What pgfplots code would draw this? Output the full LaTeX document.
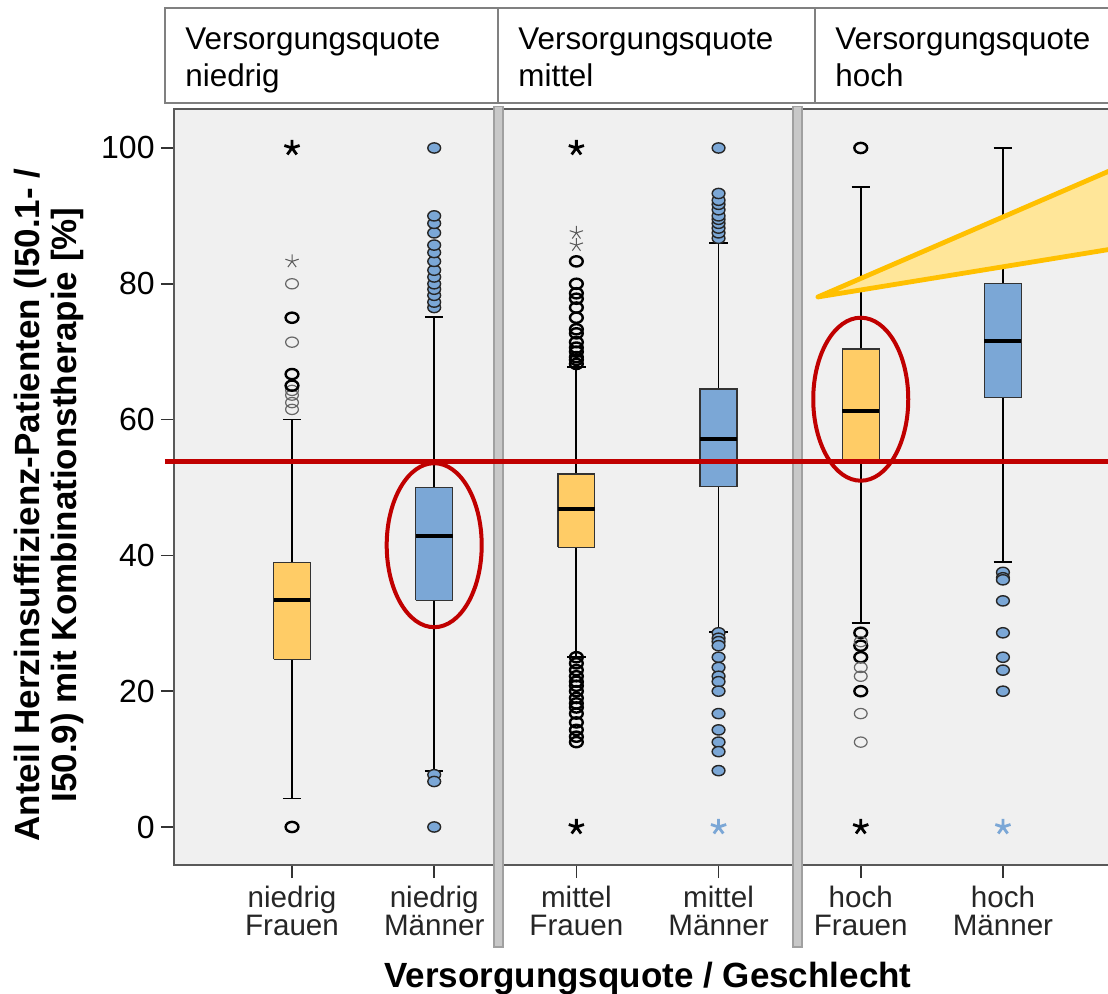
\documentclass[border=0pt]{standalone}
\usepackage{pgfplots}
\pgfplotsset{compat=1.18}
\usepackage{fontspec}
\setmainfont{Liberation Sans}
\definecolor{boxyellow}{HTML}{FFCC66}
\definecolor{boxblue}{HTML}{7BA7D6}
\definecolor{bggray}{HTML}{F0F0F0}
\definecolor{darkred}{HTML}{C00000}
\definecolor{calloutfill}{HTML}{FFE699}
\definecolor{calloutdraw}{HTML}{FFC000}
\definecolor{sepfill}{HTML}{C8C8C8}
\definecolor{sepdraw}{HTML}{A0A0A0}
\pgfplotsset{
 ocirc/.style={only marks, mark=o, mark size=3.2pt, mark options={draw=black!60, line width=0.6pt, yscale=0.8}},
 ocircb/.style={only marks, mark=o, mark size=3.2pt, mark options={draw=black, line width=1.2pt, yscale=0.8}},
 bcirc/.style={only marks, mark=*, mark size=3.2pt, mark options={draw=black!85, fill=boxblue, line width=0.7pt, yscale=0.8}},
 bstar/.style={only marks, mark=star, mark size=4pt, mark options={draw=black, line width=1.4pt}},
 gstar/.style={only marks, mark=star, mark size=3.5pt, mark options={draw=black!65, line width=0.5pt}},
 blstar/.style={only marks, mark=star, mark size=4pt, mark options={draw=boxblue, line width=1.4pt}},
 ybox/.style={draw=black!80, fill=boxyellow, line width=0.6pt, mark=none},
 bbox/.style={draw=black!80, fill=boxblue, line width=0.6pt, mark=none},
 whisk/.style={draw=black, line width=0.9pt, mark=none, unbounded coords=jump},
 med/.style={draw=black, line width=2pt, mark=none},
}
\begin{document}
\begin{tikzpicture}
% header boxes
\draw[black!50, line width=0.8pt, fill=white] (-4.5pt,381pt) rectangle (162pt,428.5pt);
\draw[black!50, line width=0.8pt, fill=white] (162pt,381pt) rectangle (320.5pt,428.5pt);
\draw[black!50, line width=0.8pt, fill=white] (320.5pt,381pt) rectangle (470pt,428.5pt);
\begin{scope}[every node/.style={anchor=base west, inner sep=0pt, font=\fontsize{15.7}{18.5}\selectfont}]
\node at (5.5pt,407.5pt) {Versorgungsquote};
\node at (5.5pt,389pt) {niedrig};
\node at (172pt,407.5pt) {Versorgungsquote};
\node at (172pt,389pt) {mittel};
\node at (330.5pt,407.5pt) {Versorgungsquote};
\node at (330.5pt,389pt) {hoch};
\end{scope}
\begin{axis}[
  at={(0pt,0pt)}, anchor=south west,
  width=468.5pt, height=378pt, scale only axis,
  xmin=-0.83, xmax=5.76, ymin=-5.6, ymax=105.74,
  clip=false,
  axis background/.style={fill=bggray},
  axis line style={draw=black!65, line width=1pt},
  xtick={0,1,2,3,4,5},
  xticklabels={{niedrig\\Frauen},{niedrig\\Männer},{mittel\\Frauen},{mittel\\Männer},{hoch\\Frauen},{hoch\\Männer}},
  ytick={0,20,40,60,80,100},
  tick align=outside, xtick pos=bottom, ytick pos=left,
  major tick length=6.5pt,
  tick style={draw=black!80, line width=0.8pt},
  xticklabel style={font=\fontsize{14.8}{14}\selectfont, align=center, text=black!85, inner sep=1pt, yshift=-3pt},
  yticklabel style={font=\fontsize{16}{18}\selectfont, inner sep=3pt},
  /pgf/number format/assume math mode=true,
]
% ---- box 0: niedrig Frauen (lw 4.2, q1 24.7, med 33.4, q3 38.9, uw 60)
\addplot[whisk] coordinates {(-0.065,4.2) (0.065,4.2) (nan,nan) (0,4.2) (0,60) (nan,nan) (-0.065,60) (0.065,60)};
\addplot[ybox] coordinates {(-0.13,24.7) (0.13,24.7) (0.13,38.9) (-0.13,38.9) (-0.13,24.7)};
\addplot[med] coordinates {(-0.13,33.4) (0.13,33.4)};
% ---- box 1: niedrig Maenner (8.3, 33.4, 42.9, 50, 75.1)
\addplot[whisk] coordinates {(0.935,8.3) (1.065,8.3) (nan,nan) (1,8.3) (1,75.1) (nan,nan) (0.935,75.1) (1.065,75.1)};
\addplot[bbox] coordinates {(0.87,33.4) (1.13,33.4) (1.13,50) (0.87,50) (0.87,33.4)};
\addplot[med] coordinates {(0.87,42.9) (1.13,42.9)};
% ---- box 2: mittel Frauen (25, 41.2, 46.9, 52, 67.8)
\addplot[whisk] coordinates {(1.935,25) (2.065,25) (nan,nan) (2,25) (2,67.8) (nan,nan) (1.935,67.8) (2.065,67.8)};
\addplot[ybox] coordinates {(1.87,41.2) (2.13,41.2) (2.13,52) (1.87,52) (1.87,41.2)};
\addplot[med] coordinates {(1.87,46.9) (2.13,46.9)};
% ---- box 3: mittel Maenner (28.7, 50.1, 57.2, 64.5, 86)
\addplot[whisk] coordinates {(2.935,28.7) (3.065,28.7) (nan,nan) (3,28.7) (3,86) (nan,nan) (2.935,86) (3.065,86)};
\addplot[bbox] coordinates {(2.87,50.1) (3.13,50.1) (3.13,64.5) (2.87,64.5) (2.87,50.1)};
\addplot[med] coordinates {(2.87,57.2) (3.13,57.2)};
% ---- box 4: hoch Frauen (30, 54, 61.3, 70.4, 94.2)
\addplot[whisk] coordinates {(3.935,30) (4.065,30) (nan,nan) (4,30) (4,94.2) (nan,nan) (3.935,94.2) (4.065,94.2)};
\addplot[ybox] coordinates {(3.87,54) (4.13,54) (4.13,70.4) (3.87,70.4) (3.87,54)};
\addplot[med] coordinates {(3.87,61.3) (4.13,61.3)};
% ---- box 5: hoch Maenner (39, 63.2, 71.5, 80, 100)
\addplot[whisk] coordinates {(4.935,39) (5.065,39) (nan,nan) (5,39) (5,100) (nan,nan) (4.935,100) (5.065,100)};
\addplot[bbox] coordinates {(4.87,63.2) (5.13,63.2) (5.13,80) (4.87,80) (4.87,63.2)};
\addplot[med] coordinates {(4.87,71.5) (5.13,71.5)};
% outliers niedrig Frauen
\addplot[ocirc] coordinates {(0,61.5) (0,62.5) (0,63.6) (0,64.3) (0,71.4) (0,80)};
\addplot[ocircb] coordinates {(0,65) (0,66.7) (0,75) (0,0)};
\addplot[gstar] coordinates {(0,83.3)};
\addplot[bstar] coordinates {(0,100)};
% niedrig Maenner
\addplot[bcirc] coordinates {(1,76.5) (1,77.3) (1,78.3) (1,79.2) (1,80) (1,81) (1,82) (1,83.3) (1,84.6) (1,85.7) (1,87.5) (1,88.9) (1,90) (1,100) (1,7.7) (1,6.7) (1,0)};
% mittel Frauen
\addplot[ocircb] coordinates {(2,68.2) (2,68.8) (2,69.2) (2,70) (2,70.6) (2,71.4) (2,72.7) (2,73.3) (2,75) (2,76.5) (2,77.8) (2,78.6) (2,80) (2,83.3)
 (2,25) (2,24.1) (2,23.1) (2,22.2) (2,21.4) (2,20.8) (2,20) (2,19) (2,18.2) (2,17.6) (2,16.7) (2,15.4) (2,14.3) (2,13.3) (2,12.5)};
\addplot[gstar] coordinates {(2,85.7) (2,87.5)};
\addplot[bstar] coordinates {(2,100) (2,0)};
% mittel Maenner
\addplot[bcirc] coordinates {(3,86.7) (3,87.5) (3,88.2) (3,88.9) (3,89.5) (3,90) (3,90.9) (3,91.7) (3,92.3) (3,93.3) (3,100)
 (3,28.6) (3,27.8) (3,27.3) (3,26.7) (3,25) (3,23.5) (3,22.2) (3,21.4) (3,20) (3,16.7) (3,14.3) (3,12.5) (3,11.1) (3,8.3)};
\addplot[blstar] coordinates {(3,0)};
% hoch Frauen
\addplot[ocircb] coordinates {(4,100) (4,28.6) (4,26.7) (4,25) (4,20)};
\addplot[ocirc] coordinates {(4,27.3) (4,23.5) (4,22.2) (4,16.7) (4,12.5)};
\addplot[bstar] coordinates {(4,0)};
% hoch Maenner
\addplot[bcirc] coordinates {(5,37.5) (5,36.7) (5,36.4) (5,33.3) (5,28.6) (5,25) (5,23.1) (5,20)};
\addplot[blstar] coordinates {(5,0)};
% separators
\draw[sepdraw, line width=5.5pt] (axis cs:1.449,106.2) -- (axis cs:1.449,-17.8);
\draw[sepfill, line width=3.5pt] (axis cs:1.449,106.0) -- (axis cs:1.449,-17.6);
\draw[sepdraw, line width=5.5pt] (axis cs:3.558,106.2) -- (axis cs:3.558,-17.8);
\draw[sepfill, line width=3.5pt] (axis cs:3.558,106.0) -- (axis cs:3.558,-17.6);
% annotations
\draw[darkred, line width=2.5pt] ([xshift=-4.5pt]axis cs:-0.83,53.8) -- (axis cs:6,53.8);
\draw[darkred, line width=2pt] (axis cs:1,41.5) ellipse [x radius=23.75pt, y radius=41pt];
\draw[darkred, line width=2pt] (axis cs:4,63) ellipse [x radius=23.75pt, y radius=40.75pt];
\filldraw[fill=calloutfill, draw=calloutdraw, line width=2.4pt, line join=round] (axis cs:3.699,78.06) -- (axis cs:6.2,100.7) -- (axis cs:6.2,86.6) -- cycle;
\end{axis}
\node[rotate=90, align=center, font=\bfseries\fontsize{17.5}{18.5}\selectfont] at (-62.5pt,180pt) {Anteil Herzinsuffizienz-Patienten (I50.1- /\\I50.9) mit Kombinationstherapie [\%]};
\node[anchor=base, inner sep=0pt, font=\bfseries\fontsize{17.5}{20}\selectfont] at (237pt,-61pt) {Versorgungsquote / Geschlecht};
\pgfresetboundingbox
\path[use as bounding box] (-87pt,-64pt) rectangle (467pt,432.5pt);
\end{tikzpicture}
\end{document}
